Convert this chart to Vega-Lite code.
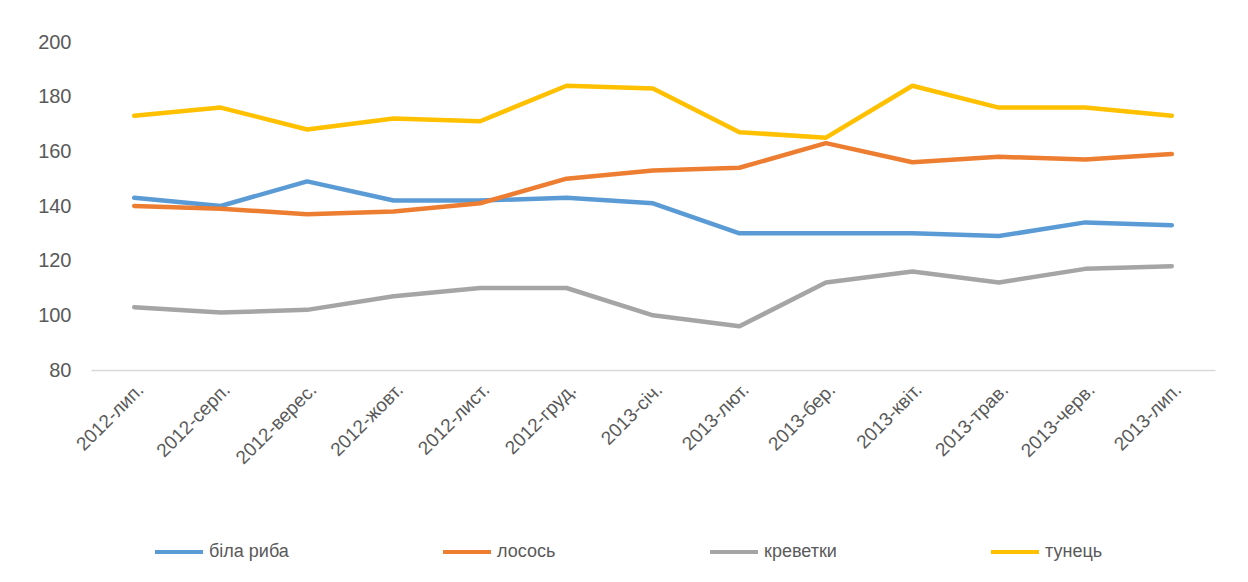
{
  "$schema": "https://vega.github.io/schema/vega-lite/v6.json",
  "autosize": "none",
  "width": 1124,
  "height": 328,
  "padding": {"left": 91, "top": 42, "right": 33, "bottom": 212},
  "background": "white",
  "config": {
    "view": {"stroke": null},
    "font": "Liberation Sans"
  },
  "data": {
    "values": [
      {"m": "2012-лип.", "i": 0, "s": "біла риба", "v": 143},
      {"m": "2012-серп.", "i": 1, "s": "біла риба", "v": 140},
      {"m": "2012-верес.", "i": 2, "s": "біла риба", "v": 149},
      {"m": "2012-жовт.", "i": 3, "s": "біла риба", "v": 142},
      {"m": "2012-лист.", "i": 4, "s": "біла риба", "v": 142},
      {"m": "2012-груд.", "i": 5, "s": "біла риба", "v": 143},
      {"m": "2013-січ.", "i": 6, "s": "біла риба", "v": 141},
      {"m": "2013-лют.", "i": 7, "s": "біла риба", "v": 130},
      {"m": "2013-бер.", "i": 8, "s": "біла риба", "v": 130},
      {"m": "2013-квіт.", "i": 9, "s": "біла риба", "v": 130},
      {"m": "2013-трав.", "i": 10, "s": "біла риба", "v": 129},
      {"m": "2013-черв.", "i": 11, "s": "біла риба", "v": 134},
      {"m": "2013-лип.", "i": 12, "s": "біла риба", "v": 133},
      {"m": "2012-лип.", "i": 0, "s": "лосось", "v": 140},
      {"m": "2012-серп.", "i": 1, "s": "лосось", "v": 139},
      {"m": "2012-верес.", "i": 2, "s": "лосось", "v": 137},
      {"m": "2012-жовт.", "i": 3, "s": "лосось", "v": 138},
      {"m": "2012-лист.", "i": 4, "s": "лосось", "v": 141},
      {"m": "2012-груд.", "i": 5, "s": "лосось", "v": 150},
      {"m": "2013-січ.", "i": 6, "s": "лосось", "v": 153},
      {"m": "2013-лют.", "i": 7, "s": "лосось", "v": 154},
      {"m": "2013-бер.", "i": 8, "s": "лосось", "v": 163},
      {"m": "2013-квіт.", "i": 9, "s": "лосось", "v": 156},
      {"m": "2013-трав.", "i": 10, "s": "лосось", "v": 158},
      {"m": "2013-черв.", "i": 11, "s": "лосось", "v": 157},
      {"m": "2013-лип.", "i": 12, "s": "лосось", "v": 159},
      {"m": "2012-лип.", "i": 0, "s": "креветки", "v": 103},
      {"m": "2012-серп.", "i": 1, "s": "креветки", "v": 101},
      {"m": "2012-верес.", "i": 2, "s": "креветки", "v": 102},
      {"m": "2012-жовт.", "i": 3, "s": "креветки", "v": 107},
      {"m": "2012-лист.", "i": 4, "s": "креветки", "v": 110},
      {"m": "2012-груд.", "i": 5, "s": "креветки", "v": 110},
      {"m": "2013-січ.", "i": 6, "s": "креветки", "v": 100},
      {"m": "2013-лют.", "i": 7, "s": "креветки", "v": 96},
      {"m": "2013-бер.", "i": 8, "s": "креветки", "v": 112},
      {"m": "2013-квіт.", "i": 9, "s": "креветки", "v": 116},
      {"m": "2013-трав.", "i": 10, "s": "креветки", "v": 112},
      {"m": "2013-черв.", "i": 11, "s": "креветки", "v": 117},
      {"m": "2013-лип.", "i": 12, "s": "креветки", "v": 118},
      {"m": "2012-лип.", "i": 0, "s": "тунець", "v": 173},
      {"m": "2012-серп.", "i": 1, "s": "тунець", "v": 176},
      {"m": "2012-верес.", "i": 2, "s": "тунець", "v": 168},
      {"m": "2012-жовт.", "i": 3, "s": "тунець", "v": 172},
      {"m": "2012-лист.", "i": 4, "s": "тунець", "v": 171},
      {"m": "2012-груд.", "i": 5, "s": "тунець", "v": 184},
      {"m": "2013-січ.", "i": 6, "s": "тунець", "v": 183},
      {"m": "2013-лют.", "i": 7, "s": "тунець", "v": 167},
      {"m": "2013-бер.", "i": 8, "s": "тунець", "v": 165},
      {"m": "2013-квіт.", "i": 9, "s": "тунець", "v": 184},
      {"m": "2013-трав.", "i": 10, "s": "тунець", "v": 176},
      {"m": "2013-черв.", "i": 11, "s": "тунець", "v": 176},
      {"m": "2013-лип.", "i": 12, "s": "тунець", "v": 173}
    ]
  },
  "mark": {"type": "line", "strokeWidth": 4.5, "strokeJoin": "round", "strokeCap": "round"},
  "encoding": {
    "x": {
      "field": "m",
      "type": "ordinal",
      "sort": {"field": "i"},
      "scale": {"type": "band", "paddingInner": 0, "paddingOuter": 0},
      "axis": {
        "title": null,
        "labelAngle": -45,
        "labelFontSize": 19,
        "labelColor": "#595959",
        "labelPadding": 10,
        "ticks": false,
        "domainColor": "#d9d9d9",
        "domainWidth": 1.5
      }
    },
    "y": {
      "field": "v",
      "type": "quantitative",
      "scale": {"domain": [80, 200], "nice": false, "zero": false},
      "axis": {
        "title": null,
        "values": [80, 100, 120, 140, 160, 180, 200],
        "grid": false,
        "domain": false,
        "ticks": false,
        "labelFontSize": 20,
        "labelColor": "#595959",
        "labelPadding": 20
      }
    },
    "color": {
      "field": "s",
      "type": "nominal",
      "scale": {
        "domain": ["біла риба", "лосось", "креветки", "тунець"],
        "range": ["#5B9BD5", "#ED7D31", "#A5A5A5", "#FFC000"]
      },
      "legend": {
        "title": null,
        "orient": "none",
        "legendX": 62,
        "legendY": 484,
        "direction": "horizontal",
        "symbolType": "stroke",
        "symbolSize": 2304,
        "symbolStrokeWidth": 4,
        "labelFontSize": 18,
        "labelColor": "#595959",
        "labelOffset": 4,
        "columnPadding": 146,
        "gridAlign": "none"
      }
    }
  }
}
